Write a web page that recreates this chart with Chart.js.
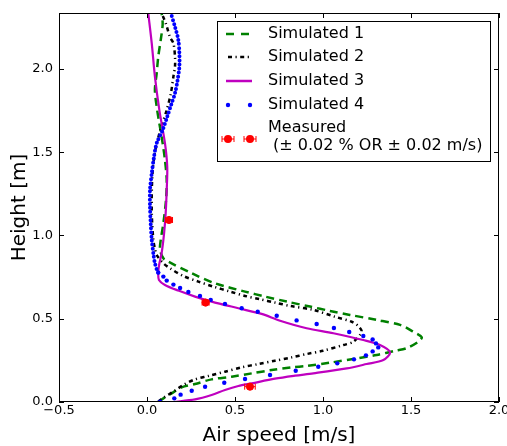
<!DOCTYPE html>
<html>
<head>
<meta charset="utf-8">
<script src="https://cdn.jsdelivr.net/npm/chart.js@4/dist/chart.umd.min.js"></script>
<style>
  body { margin: 0; background: #fff; }
  #wrap { width: 507px; height: 446px; }
</style>
</head>
<body>
<div id="wrap"><canvas id="chart" width="507" height="446"></canvas></div>
<script>
// axis ticks
const xTicks = [-0.5, 0.0, 0.5, 1.0, 1.5, 2.0];
const yTicks = [0.0, 0.5, 1.0, 1.5, 2.0];

// Simulated 1 (green dashed) – speed [m/s] vs height [m]
const sim1Speed = [0.064, 0.093, 0.140, 0.197, 0.273, 0.367, 0.481, 0.595, 0.708, 0.822, 0.907, 1.040, 1.191, 1.305, 1.409, 1.475, 1.542, 1.561, 1.513, 1.438, 1.305, 1.153, 1.040, 0.926, 0.794, 0.670, 0.557, 0.386, 0.254, 0.121, 0.093, 0.074, 0.078, 0.093, 0.108, 0.112, 0.102, 0.089, 0.070, 0.055, 0.045, 0.055, 0.064, 0.078, 0.089, 0.083];
const sim1Height = [0.002, 0.022, 0.052, 0.088, 0.108, 0.136, 0.152, 0.172, 0.192, 0.208, 0.216, 0.236, 0.262, 0.282, 0.308, 0.323, 0.362, 0.389, 0.422, 0.463, 0.493, 0.523, 0.547, 0.573, 0.603, 0.633, 0.663, 0.713, 0.773, 0.843, 0.863, 0.913, 0.973, 1.073, 1.213, 1.333, 1.453, 1.554, 1.674, 1.774, 1.874, 1.974, 2.074, 2.174, 2.270, 2.336];

// Simulated 2 (black dash-dot)
const sim2Speed = [0.064, 0.102, 0.150, 0.206, 0.273, 0.348, 0.443, 0.538, 0.633, 0.727, 0.822, 0.907, 1.000, 1.116, 1.172, 1.220, 1.200, 1.163, 1.068, 0.945, 0.813, 0.727, 0.642, 0.557, 0.472, 0.377, 0.292, 0.206, 0.131, 0.093, 0.055, 0.045, 0.036, 0.027, 0.030, 0.045, 0.075, 0.112, 0.135, 0.150, 0.159, 0.159, 0.150, 0.131, 0.108, 0.083];
const sim2Height = [0.002, 0.032, 0.062, 0.102, 0.136, 0.156, 0.182, 0.208, 0.228, 0.248, 0.268, 0.288, 0.308, 0.342, 0.362, 0.422, 0.456, 0.482, 0.512, 0.553, 0.577, 0.597, 0.617, 0.637, 0.663, 0.693, 0.723, 0.757, 0.803, 0.833, 0.883, 0.923, 0.973, 1.143, 1.350, 1.500, 1.630, 1.754, 1.850, 1.954, 2.014, 2.074, 2.154, 2.190, 2.270, 2.336];

// Simulated 3 (magenta solid)
const sim3Speed = [0.150, 0.273, 0.367, 0.443, 0.519, 0.595, 0.727, 0.841, 0.945, 1.135, 1.248, 1.343, 1.381, 1.324, 1.229, 1.059, 0.907, 0.756, 0.651, 0.519, 0.367, 0.273, 0.178, 0.102, 0.068, 0.064, 0.070, 0.083, 0.097, 0.106, 0.112, 0.115, 0.102, 0.070, 0.045, 0.027, 0.007];
const sim3Height = [0.000, 0.016, 0.042, 0.072, 0.096, 0.112, 0.140, 0.158, 0.172, 0.202, 0.228, 0.252, 0.298, 0.342, 0.372, 0.413, 0.443, 0.488, 0.529, 0.563, 0.603, 0.633, 0.669, 0.703, 0.733, 0.780, 0.830, 0.893, 1.013, 1.133, 1.273, 1.413, 1.554, 1.754, 1.954, 2.154, 2.336];

// Simulated 4 (blue dots); first sim4DotCount values are the separate markers, the rest is the dense upper part
const sim4Speed = [0.074, 0.155, 0.191, 0.254, 0.330, 0.439, 0.557, 0.699, 0.845, 0.973, 1.081, 1.176, 1.244, 1.282, 1.314, 1.301, 1.282, 1.229, 1.149, 1.062, 0.964, 0.850, 0.737, 0.629, 0.538, 0.443, 0.362, 0.301, 0.235, 0.188, 0.150, 0.112, 0.093, 0.064, 0.045, 0.036, 0.027, 0.021, 0.017, 0.017, 0.027, 0.040, 0.055, 0.089, 0.115, 0.140, 0.159, 0.174, 0.184, 0.184, 0.178, 0.159, 0.135];
const sim4Height = [0.002, 0.022, 0.044, 0.068, 0.092, 0.116, 0.138, 0.162, 0.188, 0.212, 0.232, 0.256, 0.280, 0.304, 0.328, 0.352, 0.376, 0.396, 0.420, 0.444, 0.468, 0.490, 0.518, 0.542, 0.563, 0.589, 0.613, 0.637, 0.661, 0.685, 0.705, 0.729, 0.753, 0.777, 0.833, 0.893, 0.973, 1.073, 1.173, 1.273, 1.374, 1.473, 1.554, 1.634, 1.714, 1.794, 1.854, 1.934, 2.014, 2.094, 2.174, 2.254, 2.336];
const sim4DotCount = 34;

// Measured, with horizontal error
const measSpeed = [0.125, 0.333, 0.585];
const measHeight = [1.093, 0.597, 0.092];
const measErr = [0.02, 0.02, 0.03];

const FONT = "'DejaVu Sans', sans-serif";
const GREEN = '#008000', BLACK = '#000000', MAGENTA = '#bf00bf', BLUE = '#0000ff', RED = '#ff0000';

function pts(xs, ys) {
  return xs.map((x, i) => ({ x: x, y: ys[i] }));
}

function fmt(v) {
  return v.toFixed(1).replace('-', '\u2212');
}

// frame, inward ticks, error bars and the legend box
const decorations = {
  id: 'decorations',
  afterDatasetsDraw(chart) {
    const { ctx, scales: { x, y } } = chart;
    ctx.save();
    ctx.strokeStyle = RED;
    ctx.lineWidth = 1;
    measSpeed.forEach((s, i) => {
      const py = y.getPixelForValue(measHeight[i]);
      const x0 = x.getPixelForValue(s - measErr[i]);
      const x1 = x.getPixelForValue(s + measErr[i]);
      ctx.beginPath();
      ctx.moveTo(x0, py); ctx.lineTo(x1, py);
      ctx.moveTo(x0, py - 3); ctx.lineTo(x0, py + 3);
      ctx.moveTo(x1, py - 3); ctx.lineTo(x1, py + 3);
      ctx.stroke();
    });
    ctx.restore();
  },
  afterDraw(chart) {
    const { ctx, chartArea: a, scales: { x, y } } = chart;
    ctx.save();
    ctx.strokeStyle = '#000';
    ctx.lineWidth = 1;
    ctx.strokeRect(a.left + 0.5, a.top + 0.5, a.right - a.left - 1, a.bottom - a.top - 1);
    ctx.beginPath();
    xTicks.forEach(v => {
      const px = Math.round(x.getPixelForValue(v)) + 0.5;
      ctx.moveTo(px, a.bottom); ctx.lineTo(px, a.bottom - 5);
      ctx.moveTo(px, a.top); ctx.lineTo(px, a.top + 5);
    });
    yTicks.forEach(v => {
      const py = Math.round(y.getPixelForValue(v)) + 0.5;
      ctx.moveTo(a.left, py); ctx.lineTo(a.left + 5, py);
      ctx.moveTo(a.right, py); ctx.lineTo(a.right - 5, py);
    });
    ctx.stroke();

    // legend
    const bx = 217, by = 21, bw = 273, bh = 140;
    ctx.fillStyle = '#fff';
    ctx.fillRect(bx, by, bw, bh);
    ctx.strokeRect(bx + 0.5, by + 0.5, bw, bh);
    const sx0 = 226, sx1 = 252, tx = 268;
    const rows = [34, 57, 81, 105];

    ctx.lineWidth = 2.5;
    ctx.strokeStyle = GREEN;
    ctx.setLineDash([8, 7]);
    ctx.beginPath(); ctx.moveTo(sx0, rows[0]); ctx.lineTo(sx1, rows[0]); ctx.stroke();

    ctx.strokeStyle = BLACK;
    ctx.setLineDash([4, 3.5, 1.2, 3.5]);
    ctx.beginPath(); ctx.moveTo(sx0 + 2, rows[1]); ctx.lineTo(sx1, rows[1]); ctx.stroke();

    ctx.strokeStyle = MAGENTA;
    ctx.setLineDash([]);
    ctx.beginPath(); ctx.moveTo(sx0, rows[2]); ctx.lineTo(sx1, rows[2]); ctx.stroke();

    ctx.fillStyle = BLUE;
    [228, 250].forEach(cx => {
      ctx.beginPath(); ctx.arc(cx, rows[3], 2.2, 0, Math.PI * 2); ctx.fill();
    });

    const my = 139;
    ctx.strokeStyle = RED;
    ctx.fillStyle = RED;
    ctx.lineWidth = 1;
    [228, 250].forEach(cx => {
      ctx.beginPath();
      ctx.moveTo(cx - 6, my); ctx.lineTo(cx + 6, my);
      ctx.moveTo(cx - 6, my - 3); ctx.lineTo(cx - 6, my + 3);
      ctx.moveTo(cx + 6, my - 3); ctx.lineTo(cx + 6, my + 3);
      ctx.stroke();
      ctx.beginPath(); ctx.arc(cx, my, 4, 0, Math.PI * 2); ctx.fill();
    });

    ctx.fillStyle = '#000';
    ctx.font = '16px ' + FONT;
    ctx.textBaseline = 'middle';
    ctx.textAlign = 'left';
    ['Simulated 1', 'Simulated 2', 'Simulated 3', 'Simulated 4'].forEach((t, i) => ctx.fillText(t, tx, rows[i]));
    ctx.fillText('Measured', tx, 128);
    ctx.fillText(' (\u00b1 0.02 % OR \u00b1 0.02 m/s)', tx, 146);
    ctx.restore();
  }
};

new Chart(document.getElementById('chart'), {
  type: 'scatter',
  data: {
    datasets: [
      {
        label: 'Measured',
        data: pts(measSpeed, measHeight),
        backgroundColor: RED,
        borderColor: RED,
        pointRadius: 3.6,
        showLine: false,
        order: 0
      },
      {
        label: 'Simulated 4',
        data: pts(sim4Speed, sim4Height),
        showLine: true,
        borderColor: BLUE,
        backgroundColor: BLUE,
        borderWidth: 4,
        borderDash: [0, 4.1],
        borderCapStyle: 'round',
        tension: 0.3,
        pointRadius: ctx => ctx.dataIndex < sim4DotCount ? 2.2 : 0,
        pointBorderWidth: 0,
        segment: {
          borderColor: ctx => ctx.p0DataIndex < sim4DotCount - 1 ? 'rgba(0,0,0,0)' : BLUE
        },
        order: 1
      },
      {
        label: 'Simulated 3',
        data: pts(sim3Speed, sim3Height),
        showLine: true,
        borderColor: MAGENTA,
        borderWidth: 2.2,
        tension: 0.3,
        pointRadius: 0,
        order: 2
      },
      {
        label: 'Simulated 2',
        data: pts(sim2Speed, sim2Height),
        showLine: true,
        borderColor: BLACK,
        borderWidth: 2.5,
        borderDash: [4, 3.5, 1.2, 3.5],
        tension: 0.3,
        pointRadius: 0,
        order: 3
      },
      {
        label: 'Simulated 1',
        data: pts(sim1Speed, sim1Height),
        showLine: true,
        borderColor: GREEN,
        borderWidth: 2.5,
        borderDash: [8, 5],
        tension: 0.3,
        pointRadius: 0,
        order: 4
      }
    ]
  },
  options: {
    responsive: false,
    animation: false,
    layout: { padding: { left: 0, top: 13, right: 8, bottom: 0 } },
    plugins: { legend: { display: false }, tooltip: { enabled: false } },
    scales: {
      x: {
        type: 'linear',
        min: -0.5,
        max: 2.0,
        afterBuildTicks: s => { s.ticks = xTicks.map(v => ({ value: v })); },
        afterFit: s => { s.height = 44; s.paddingLeft = 0; s.paddingRight = 0; },
        grid: { display: false, drawTicks: false },
        border: { display: false },
        ticks: { color: '#000', font: { family: FONT, size: 13 }, padding: 1, maxRotation: 0, callback: v => fmt(v) },
        title: { display: true, text: 'Air speed [m/s]', color: '#000', font: { family: FONT, size: 20, lineHeight: 1 }, padding: 0 }
      },
      y: {
        type: 'linear',
        min: 0,
        max: 2.336,
        afterBuildTicks: s => { s.ticks = yTicks.map(v => ({ value: v })); },
        afterFit: s => { s.width = 59; s.paddingTop = 0; s.paddingBottom = 0; },
        grid: { display: false, drawTicks: false },
        border: { display: false },
        ticks: { color: '#000', font: { family: FONT, size: 13 }, padding: 6, callback: v => fmt(v) },
        title: { display: true, text: 'Height [m]', color: '#000', font: { family: FONT, size: 20, lineHeight: 1 }, padding: { top: 10, bottom: 0 } }
      }
    }
  },
  plugins: [decorations]
});
</script>
</body>
</html>
